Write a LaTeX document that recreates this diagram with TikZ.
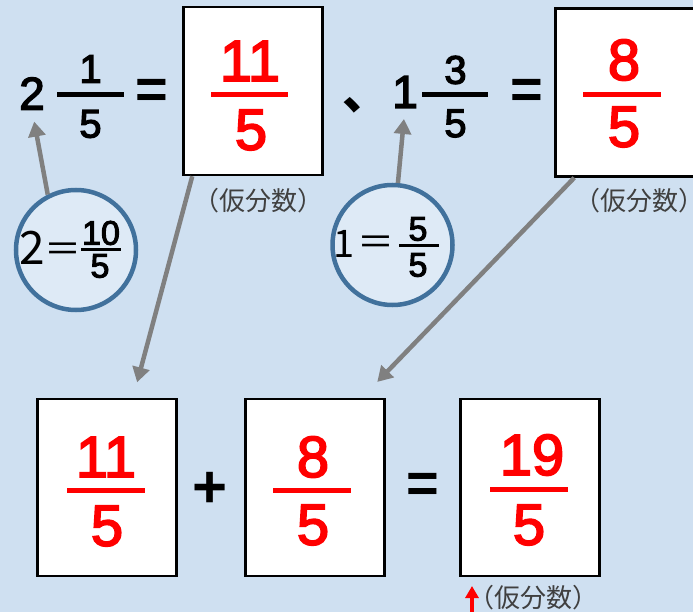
\documentclass[tikz,border=0pt]{standalone}
\usepackage{fontspec}
\setmainfont{Liberation Sans}
\newfontfamily\numfont{Liberation Sans}[FakeBold=3]
\newfontfamily\jpfont{Noto Sans CJK JP}
\usetikzlibrary{arrows.meta}
\definecolor{bgblue}{HTML}{CFE0F1}
\definecolor{ringline}{HTML}{41719C}
\definecolor{ringfill}{HTML}{DEEAF6}
\definecolor{arrgray}{HTML}{808080}
\definecolor{ansred}{HTML}{FF0000}
\definecolor{notegray}{HTML}{404040}
\tikzset{
  ansbox/.style={draw=black,fill=white,line width=2.5pt,minimum width=139pt,minimum height=177pt,inner sep=0pt},
  ring/.style={circle,draw=ringline,fill=ringfill,line width=4.5pt,minimum size=120pt,inner sep=0pt},
  ansnum/.style={text=ansred,font=\numfont\fontsize{58}{60}\selectfont,inner sep=0pt},
  whole/.style={font=\numfont\fontsize{46}{48}\selectfont,inner sep=0pt},
  part/.style={font=\numfont\fontsize{40}{42}\selectfont,inner sep=0pt},
  ringnum/.style={font=\numfont\fontsize{34}{36}\selectfont,inner sep=0pt},
  ringint/.style={font=\jpfont\fontsize{46}{48}\selectfont,inner sep=0pt},
  ringeq/.style={font=\jpfont\fontsize{37}{39}\selectfont,inner sep=0pt},
  opsign/.style={font=\bfseries\fontsize{56}{58}\selectfont,inner sep=0pt},
  note/.style={text=notegray,font=\jpfont\fontsize{26}{28}\selectfont,inner sep=0pt},
  ansbar/.style={draw=ansred,line width=5pt},
  blkbar/.style={draw=black,line width=5pt},
  ringbar/.style={draw=black,line width=2.5pt},
  garr/.style={-{Triangle[length=15pt,width=17pt]},line width=4.5pt,draw=arrgray},
  redarr/.style={-{Triangle[length=12pt,width=13pt]},line width=3.5pt,draw=ansred}
}
\begin{document}
\begin{tikzpicture}[x=1pt,y=-1pt]
  \useasboundingbox (0,0) rectangle (693,612);
  \clip (0,0) rectangle (693,612);
  \fill[bgblue] (0,0) rectangle (693,612);
  \node[ansbox,minimum height=168pt] (b1) at (253,91) {};
  \node[ansbox,minimum height=168pt] (b2) at (625,92.5) {};
  \node[ansbox] (b3) at (107,487.5) {};
  \node[ansbox] (b4) at (315,487.5) {};
  \node[ansbox] (b5) at (530,487.5) {};
  \node[ring] (r1) at (76,250) {};
  \node[ring] (r2) at (392.5,245) {};
  \node[whole] (w1) at (32,93.5) {2};
  \node[part] (n1) at (90.5,69) {1};
  \draw[blkbar] (57,94.5) -- (124,94.5);
  \node[part] (d1) at (90.5,124) {5};
  \node[opsign] (e1) at (152,93.5) {=};
  \node[ansnum] (n2) at (250,61) {11};
  \draw[ansbar] (211,94.5) -- (288,94.5);
  \node[ansnum] (d2) at (251,130) {5};
  \node[note] (p1) at (258,201) {（仮分数）};
  \node[font=\jpfont\bfseries\fontsize{48}{50}\selectfont,inner sep=0pt,anchor=west] (cm) at (342,105) {、};
  \node[whole] (w2) at (405,92) {1};
  \node[part] (n3) at (455.5,70) {3};
  \draw[blkbar] (422,94.5) -- (488,94.5);
  \node[part] (d3) at (455.5,123.5) {5};
  \node[opsign] (e2) at (527,93.5) {=};
  \node[ansnum] (n4) at (624,60) {8};
  \draw[ansbar] (583,95) -- (661,95);
  \node[ansnum] (d4) at (624,127) {5};
  \node[note] (p2) at (639,201) {（仮分数）};
  \node[ringint] (t1) at (32,248) {2};
  \node[ringeq] (q1) at (63,252.5) {＝};
  \node[ringnum] (n5) at (101,233) {10};
  \draw[ringbar] (81,249.5) -- (121,249.5);
  \node[ringnum] (d5) at (100,266) {5};
  \node[ringint,font=\jpfont\fontsize{38}{40}\selectfont] (t2) at (344,244) {1};
  \node[ringeq] (q2) at (376,246) {＝};
  \node[ringnum] (n6) at (418,229) {5};
  \draw[ringbar] (399,245.5) -- (439,245.5);
  \node[ringnum] (d6) at (418,265) {5};
  \node[ansnum] (n7) at (106,457) {11};
  \draw[ansbar] (67,490) -- (145,490);
  \node[ansnum] (d7) at (107,526) {5};
  \node[opsign,font=\bfseries\fontsize{60}{62}\selectfont] (pl) at (210,490) {+};
  \node[ansnum] (n8) at (313,457) {8};
  \draw[ansbar] (273,490) -- (351,490);
  \node[ansnum] (d8) at (313,525) {5};
  \node[opsign] (e3) at (423,488) {=};
  \node[ansnum] (n9) at (532,455) {19};
  \draw[ansbar] (490,489) -- (568,489);
  \node[ansnum] (d9) at (529,525) {5};
  \node[note] (p3) at (533,598) {（仮分数）};
  \coordinate (upfoot) at (472,614);
  \coordinate (uptip) at (472,586);
  \draw[garr,shorten >=12pt] (r1.117) -- (w1.south);
  \draw[garr,shorten >=11pt] (r2.85) -- (w2.south);
  \draw[garr,shorten >=16pt] ([xshift=10pt]b1.south west) -- ([xshift=26pt]b3.north);
  \draw[garr,shorten >=22pt] ([xshift=20pt]b2.south west) -- ([xshift=47pt]b4.north);
  \draw[redarr] (upfoot) -- (uptip);
\end{tikzpicture}
\end{document}
